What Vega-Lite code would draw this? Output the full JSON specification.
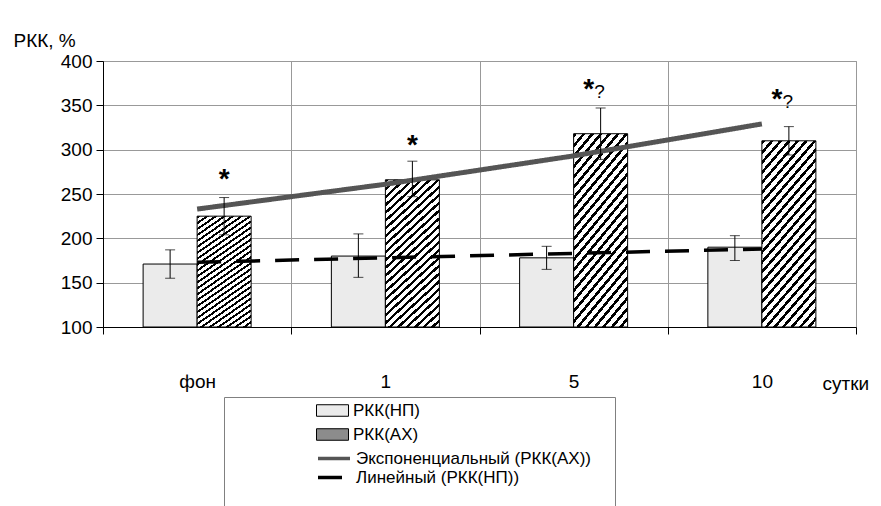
{
  "$schema": "https://vega.github.io/schema/vega-lite/v6.json",
  "width": 753,
  "height": 266,
  "autosize": {"type": "none"},
  "padding": {"left": 103, "top": 61, "right": 25, "bottom": 179},
  "background": "white",
  "config": {
    "font": "Liberation Sans",
    "view": {"stroke": "#999999", "strokeWidth": 1},
    "axis": {"labelColor": "black", "titleColor": "black", "labelFont": "Liberation Sans", "titleFont": "Liberation Sans", "titleFontWeight": "normal"}
  },
  "datasets": {
    "bars": [
      {"day": "фон", "series": "РКК(НП)", "value": 171, "lo": 155, "hi": 187},
      {"day": "фон", "series": "РКК(АХ)", "value": 225, "lo": 204, "hi": 246},
      {"day": "1", "series": "РКК(НП)", "value": 180, "lo": 156, "hi": 205},
      {"day": "1", "series": "РКК(АХ)", "value": 266, "lo": 247, "hi": 287},
      {"day": "5", "series": "РКК(НП)", "value": 178, "lo": 165, "hi": 191},
      {"day": "5", "series": "РКК(АХ)", "value": 318, "lo": 289, "hi": 347},
      {"day": "10", "series": "РКК(НП)", "value": 190, "lo": 175, "hi": 203},
      {"day": "10", "series": "РКК(АХ)", "value": 310, "lo": 294, "hi": 326}
    ],
    "trends": [
      {"day": "фон", "series": "Экспоненциальный (РКК(АХ))", "value": 233},
      {"day": "1", "series": "Экспоненциальный (РКК(АХ))", "value": 261},
      {"day": "5", "series": "Экспоненциальный (РКК(АХ))", "value": 293},
      {"day": "10", "series": "Экспоненциальный (РКК(АХ))", "value": 329},
      {"day": "фон", "series": "Линейный (РКК(НП))", "value": 173},
      {"day": "1", "series": "Линейный (РКК(НП))", "value": 178},
      {"day": "5", "series": "Линейный (РКК(НП))", "value": 183},
      {"day": "10", "series": "Линейный (РКК(НП))", "value": 188}
    ],
    "marks": [
      {"day": "фон", "series": "РКК(АХ)", "kind": "single", "pos": 257},
      {"day": "1", "series": "РКК(АХ)", "kind": "single", "pos": 295},
      {"day": "5", "series": "РКК(АХ)", "kind": "double", "pos": 358},
      {"day": "10", "series": "РКК(АХ)", "kind": "double", "pos": 347}
    ]
  },
  "encoding": {
    "x": {
      "field": "day", "type": "nominal",
      "scale": {"domain": ["фон", "1", "5", "10"], "paddingInner": 0, "paddingOuter": 0},
      "axis": {
        "tickBand": "extent", "labelAngle": 0, "labelFontSize": 19, "labelPadding": 38,
        "domainColor": "black", "ticks": true, "tickColor": "black", "tickSize": 7, "tickWidth": 1,
        "grid": true, "gridColor": "#999999",
        "title": "сутки", "titleFontSize": 19, "titleX": 719, "titleY": 62,
        "titleAlign": "left", "titleBaseline": "alphabetic", "titleAnchor": "start"
      }
    }
  },
  "layer": [
    {
      "data": {"name": "bars"},
      "mark": {"type": "bar", "stroke": "black", "strokeWidth": 1},
      "encoding": {
        "xOffset": {"field": "series", "type": "nominal", "scale": {"domain": ["РКК(НП)", "РКК(АХ)"], "paddingInner": 0, "paddingOuter": 0.743}},
        "y": {
          "field": "value", "type": "quantitative",
          "scale": {"domain": [100, 400], "nice": false, "zero": false},
          "axis": {
            "values": [100, 150, 200, 250, 300, 350, 400],
            "labelFontSize": 19, "labelPadding": 4,
            "domainColor": "black", "tickColor": "black", "tickSize": 7,
            "grid": true, "gridColor": "#999999",
            "title": "РКК, %", "titleFontSize": 19, "titleAngle": 0,
            "titleX": -90, "titleY": -15, "titleAlign": "left", "titleBaseline": "alphabetic"
          }
        },
        "y2": {"datum": 100},
        "fill": {
          "field": "series", "type": "nominal",
          "condition": {
            "test": "datum.series === 'РКК(АХ)'",
            "value": {"gradient": "linear", "x1": 0, "y1": 0, "x2": 0.405, "y2": 1.2, "stops": [
              {"offset": 0, "color": "#000"}, {"offset": 0.016, "color": "#000"}, {"offset": 0.016, "color": "#fff"}, {"offset": 0.04, "color": "#fff"},
              {"offset": 0.04, "color": "#000"}, {"offset": 0.056, "color": "#000"}, {"offset": 0.056, "color": "#fff"}, {"offset": 0.08, "color": "#fff"},
              {"offset": 0.08, "color": "#000"}, {"offset": 0.096, "color": "#000"}, {"offset": 0.096, "color": "#fff"}, {"offset": 0.12, "color": "#fff"},
              {"offset": 0.12, "color": "#000"}, {"offset": 0.136, "color": "#000"}, {"offset": 0.136, "color": "#fff"}, {"offset": 0.16, "color": "#fff"},
              {"offset": 0.16, "color": "#000"}, {"offset": 0.176, "color": "#000"}, {"offset": 0.176, "color": "#fff"}, {"offset": 0.2, "color": "#fff"},
              {"offset": 0.2, "color": "#000"}, {"offset": 0.216, "color": "#000"}, {"offset": 0.216, "color": "#fff"}, {"offset": 0.24, "color": "#fff"},
              {"offset": 0.24, "color": "#000"}, {"offset": 0.256, "color": "#000"}, {"offset": 0.256, "color": "#fff"}, {"offset": 0.28, "color": "#fff"},
              {"offset": 0.28, "color": "#000"}, {"offset": 0.296, "color": "#000"}, {"offset": 0.296, "color": "#fff"}, {"offset": 0.32, "color": "#fff"},
              {"offset": 0.32, "color": "#000"}, {"offset": 0.336, "color": "#000"}, {"offset": 0.336, "color": "#fff"}, {"offset": 0.36, "color": "#fff"},
              {"offset": 0.36, "color": "#000"}, {"offset": 0.376, "color": "#000"}, {"offset": 0.376, "color": "#fff"}, {"offset": 0.4, "color": "#fff"},
              {"offset": 0.4, "color": "#000"}, {"offset": 0.416, "color": "#000"}, {"offset": 0.416, "color": "#fff"}, {"offset": 0.44, "color": "#fff"},
              {"offset": 0.44, "color": "#000"}, {"offset": 0.456, "color": "#000"}, {"offset": 0.456, "color": "#fff"}, {"offset": 0.48, "color": "#fff"},
              {"offset": 0.48, "color": "#000"}, {"offset": 0.496, "color": "#000"}, {"offset": 0.496, "color": "#fff"}, {"offset": 0.52, "color": "#fff"},
              {"offset": 0.52, "color": "#000"}, {"offset": 0.536, "color": "#000"}, {"offset": 0.536, "color": "#fff"}, {"offset": 0.56, "color": "#fff"},
              {"offset": 0.56, "color": "#000"}, {"offset": 0.576, "color": "#000"}, {"offset": 0.576, "color": "#fff"}, {"offset": 0.6, "color": "#fff"},
              {"offset": 0.6, "color": "#000"}, {"offset": 0.616, "color": "#000"}, {"offset": 0.616, "color": "#fff"}, {"offset": 0.64, "color": "#fff"},
              {"offset": 0.64, "color": "#000"}, {"offset": 0.656, "color": "#000"}, {"offset": 0.656, "color": "#fff"}, {"offset": 0.68, "color": "#fff"},
              {"offset": 0.68, "color": "#000"}, {"offset": 0.696, "color": "#000"}, {"offset": 0.696, "color": "#fff"}, {"offset": 0.72, "color": "#fff"},
              {"offset": 0.72, "color": "#000"}, {"offset": 0.736, "color": "#000"}, {"offset": 0.736, "color": "#fff"}, {"offset": 0.76, "color": "#fff"},
              {"offset": 0.76, "color": "#000"}, {"offset": 0.776, "color": "#000"}, {"offset": 0.776, "color": "#fff"}, {"offset": 0.8, "color": "#fff"},
              {"offset": 0.8, "color": "#000"}, {"offset": 0.816, "color": "#000"}, {"offset": 0.816, "color": "#fff"}, {"offset": 0.84, "color": "#fff"},
              {"offset": 0.84, "color": "#000"}, {"offset": 0.856, "color": "#000"}, {"offset": 0.856, "color": "#fff"}, {"offset": 0.88, "color": "#fff"},
              {"offset": 0.88, "color": "#000"}, {"offset": 0.896, "color": "#000"}, {"offset": 0.896, "color": "#fff"}, {"offset": 0.92, "color": "#fff"},
              {"offset": 0.92, "color": "#000"}, {"offset": 0.936, "color": "#000"}, {"offset": 0.936, "color": "#fff"}, {"offset": 0.96, "color": "#fff"},
              {"offset": 0.96, "color": "#000"}, {"offset": 0.976, "color": "#000"}, {"offset": 0.976, "color": "#fff"}, {"offset": 1, "color": "#fff"}
            ]}
          },
          "scale": {"domain": ["РКК(НП)", "РКК(АХ)"], "range": ["#ebebeb", "#8c8c8c"]},
          "legend": {
            "orient": "none", "legendX": 121, "legendY": 336, "direction": "vertical",
            "title": null, "padding": 5,
            "labelFont": "Liberation Sans", "labelFontSize": 17, "labelColor": "black", "labelLimit": 400,
            "symbolType": "M-2,-0.72H2V0.72H-2Z", "symbolSize": 256, "symbolStrokeColor": "black", "symbolStrokeWidth": 1,
            "symbolOffset": 95, "labelOffset": 12, "rowPadding": 6
          }
        }
      }
    },
    {
      "data": {"name": "trends"},
      "transform": [{"filter": "datum.series === 'Экспоненциальный (РКК(АХ))'"}],
      "mark": {"type": "line", "strokeWidth": 5},
      "encoding": {
        "y": {"field": "value", "type": "quantitative"},
        "stroke": {
          "field": "series", "type": "nominal",
          "scale": {"domain": ["Экспоненциальный (РКК(АХ))", "Линейный (РКК(НП))"], "range": ["#555555", "#000000"]},
          "legend": {
            "orient": "none", "legendX": 121, "legendY": 336, "direction": "vertical",
            "title": "                                                                                ",
            "titleOrient": "top", "titleFontSize": 21, "titlePadding": 6.5,
            "strokeColor": "#808080", "padding": 24,
            "labelFont": "Liberation Sans", "labelFontSize": 17, "labelColor": "black", "labelLimit": 400,
            "symbolType": "M-2,0H2", "symbolSize": 256, "symbolStrokeWidth": 3.5, "symbolFillColor": "transparent",
            "symbolOffset": 76, "labelOffset": 12, "rowPadding": 1
          }
        },
        "strokeDash": {
          "field": "series", "type": "nominal",
          "scale": {"domain": ["Экспоненциальный (РКК(АХ))", "Линейный (РКК(НП))"], "range": [[1, 0], [24, 15]]},
          "legend": {
            "orient": "none", "legendX": 121, "legendY": 336, "direction": "vertical",
            "title": "                                                                                ",
            "titleOrient": "top", "titleFontSize": 21, "titlePadding": 6.5,
            "strokeColor": "#808080", "padding": 24,
            "labelFont": "Liberation Sans", "labelFontSize": 17, "labelColor": "black", "labelLimit": 400,
            "symbolType": "M-2,0H2", "symbolSize": 256, "symbolStrokeWidth": 3.5, "symbolFillColor": "transparent",
            "symbolOffset": 76, "labelOffset": 12, "rowPadding": 1
          }
        }
      }
    },
    {
      "data": {"name": "trends"},
      "transform": [{"filter": "datum.series === 'Линейный (РКК(НП))'"}],
      "mark": {"type": "line", "strokeWidth": 3.5},
      "encoding": {
        "y": {"field": "value", "type": "quantitative"},
        "stroke": {"field": "series", "type": "nominal"},
        "strokeDash": {"field": "series", "type": "nominal"}
      }
    },
    {
      "data": {"name": "bars"},
      "mark": {"type": "rule", "color": "black", "strokeWidth": 1},
      "encoding": {
        "xOffset": {"field": "series", "type": "nominal"},
        "y": {"field": "lo", "type": "quantitative"},
        "y2": {"field": "hi"}
      }
    },
    {
      "data": {"name": "bars"},
      "mark": {"type": "tick", "color": "black", "thickness": 1, "size": 10},
      "encoding": {
        "xOffset": {"field": "series", "type": "nominal"},
        "y": {"field": "lo", "type": "quantitative"}
      }
    },
    {
      "data": {"name": "bars"},
      "mark": {"type": "tick", "color": "black", "thickness": 1, "size": 10},
      "encoding": {
        "xOffset": {"field": "series", "type": "nominal"},
        "y": {"field": "hi", "type": "quantitative"}
      }
    },
    {
      "data": {"name": "marks"},
      "transform": [{"filter": "datum.kind === 'single'"}],
      "mark": {"type": "text", "text": "*", "fontSize": 28, "fontWeight": "bold", "color": "black", "align": "center", "baseline": "alphabetic"},
      "encoding": {
        "xOffset": {"field": "series", "type": "nominal"},
        "y": {"field": "pos", "type": "quantitative"}
      }
    },
    {
      "data": {"name": "marks"},
      "transform": [{"filter": "datum.kind === 'double'"}],
      "mark": {"type": "text", "text": "*", "fontSize": 28, "fontWeight": "bold", "color": "black", "align": "center", "baseline": "alphabetic", "dx": -12},
      "encoding": {
        "xOffset": {"field": "series", "type": "nominal"},
        "y": {"field": "pos", "type": "quantitative"}
      }
    },
    {
      "data": {"name": "marks"},
      "transform": [{"filter": "datum.kind === 'double'"}],
      "mark": {"type": "text", "text": "?", "fontSize": 19, "color": "black", "align": "center", "baseline": "alphabetic", "dx": -1},
      "encoding": {
        "xOffset": {"field": "series", "type": "nominal"},
        "y": {"field": "pos", "type": "quantitative"}
      }
    }
  ]
}
